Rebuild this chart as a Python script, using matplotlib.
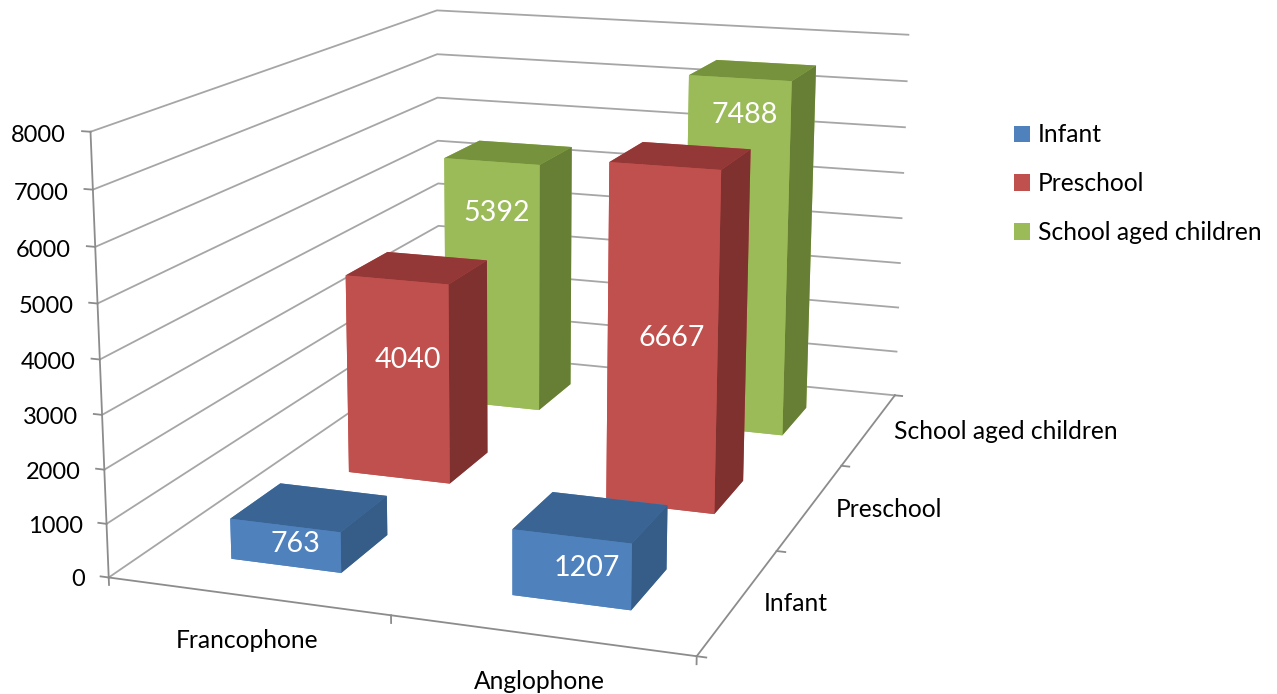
import numpy as np
import matplotlib
matplotlib.use("Agg")
import matplotlib.pyplot as plt
from matplotlib.patches import Patch
from mpl_toolkits.mplot3d import proj3d

plt.rcParams["font.family"] = ["Lato", "DejaVu Sans"]

categories = ["Francophone", "Anglophone"]
series = ["Infant", "Preschool", "School aged children"]
infant = [763, 1207]
preschool = [4040, 6667]
school = [5392, 7488]
z_ticks = [0, 1000, 2000, 3000, 4000, 5000, 6000, 7000, 8000]

# front, top, right side colour of each series
front_colors = ["#4F81BD", "#C0504D", "#9BBB59"]
top_colors = ["#3A6493", "#933836", "#76923C"]
side_colors = ["#365C88", "#7F3130", "#667F34"]
grid_color = "#A6A6A6"
axis_color = "#8C8C8C"

# value labels were moved by hand in the original, pixels from the bar middle
label_dx = [[-15, -4], [-10, -7], [-12, -5]]
label_dy = [[-17, -18], [6, -12], [61, 131]]

W, H = 1277, 694
fig = plt.figure(figsize=(W / 100, H / 100), dpi=100)

# camera values were fitted against the picture corners
scale = 5606.3
left = 545.7 - scale * 0.095
bottom = 413.1 - scale * 0.095
side = scale * 0.185
ax = fig.add_axes([left / W, bottom / H, side / W, side / H], projection="3d", computed_zorder=False)
ax.view_init(elev=13.94, azim=-70.82, roll=-0.17)
ax.set_proj_type("persp", focal_length=0.4538)
ax.set_box_aspect((1, 1.474, 0.7415))
ax.set_axis_off()

n_x = len(categories)
n_y = len(series)
ax.set_xlim(0, n_x)
ax.set_ylim(0, n_y)
ax.set_zlim(0, z_ticks[-1])


# text at a 3d point, kept as a plain 2d annotation on the projected spot
def label3d(x, y, z, text, dx=0, dy=0, ha="center", size=17.7, color="black"):
    px, py, _ = proj3d.proj_transform(x, y, z, ax.get_proj())
    ax.annotate(text, xy=(px, py), xytext=(dx, dy), textcoords="offset pixels",
                ha=ha, va="center", fontsize=size, color=color, zorder=20)


# walls
for z in z_ticks:
    ax.plot([0, 0, n_x], [0, n_y, n_y], [z, z, z], color=grid_color, lw=1.3, zorder=1)
    ax.plot([-0.03, 0], [0, 0], [z, z], color=axis_color, lw=1.3, zorder=2)
    label3d(-0.088, 0, z - 100, str(z), ha="right", size=17)

# floor edges
ax.plot([0, 0], [0, 0], [0, z_ticks[-1]], color=axis_color, lw=1.3, zorder=2)
ax.plot([0, n_x, n_x], [0, 0, n_y], [0, 0, 0], color=axis_color, lw=1.3, zorder=2)
for i in range(n_x + 1):
    ax.plot([i, i], [0, 0], [0, -140], color=axis_color, lw=1.3, zorder=2)
for j in range(n_y + 1):
    ax.plot([n_x, n_x + 0.03], [j, j], [0, 0], color=axis_color, lw=1.3, zorder=2)

# bars, back row first
values = [infant, preschool, school]
bar_w = 0.4
for j in reversed(range(n_y)):
    for i in range(n_x):
        # bar3d face order: bottom, top, front, back, left, right
        face_colors = [front_colors[j], top_colors[j], front_colors[j],
                       front_colors[j], front_colors[j], side_colors[j]]
        ax.bar3d(i + 0.5 - bar_w / 2, j + 0.5 - bar_w / 2, 0, bar_w, bar_w, values[j][i],
                 color=face_colors, shade=False, edgecolor="none", zorder=10 + (n_y - j))
        label3d(i + 0.5, j + 0.5, values[j][i] / 2, str(values[j][i]), label_dx[j][i], label_dy[j][i],
                size=20.6, color="white")

# axis labels
for i, name in enumerate(categories):
    label3d(i + 0.495, 0, -830, name)
for j, name in enumerate(series):
    label3d(n_x + 0.082 + 0.008 * j, j + 0.5, 0, name, ha="left")

handles = [Patch(facecolor=c, edgecolor="none", label=s) for c, s in zip(front_colors, series)]
fig.legend(handles=handles, loc="upper left", bbox_to_anchor=(1014 / W, 1 - 123.5 / H), frameon=False,
           fontsize=17.7, handlelength=0.65, handleheight=0.65, handletextpad=0.325,
           labelspacing=1.05, borderpad=0, borderaxespad=0)

fig.savefig("out.png", dpi=100)
